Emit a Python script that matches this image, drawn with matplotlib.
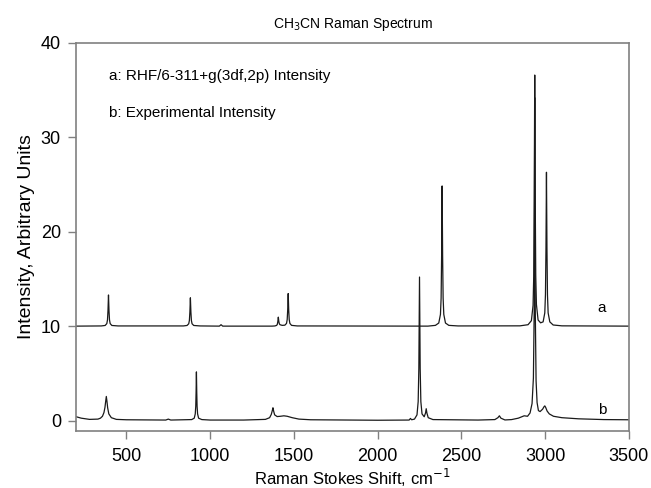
import matplotlib.pyplot as plt

plt.rcParams["font.family"] = ["Liberation Sans", "DejaVu Sans"]

# Trace a: RHF/6-311+g(3df,2p) intensity (offset by 10)
calc_shift = [
    200, 350, 373, 383, 387, 390, 393, 396, 399, 403, 413, 450,
    840, 862, 872, 876, 879, 882, 885, 888, 892, 902, 940,
    1055, 1065, 1075,
    1370, 1387, 1397, 1401, 1404, 1407, 1410, 1413, 1417, 1430,
    1446, 1456, 1460, 1463, 1466, 1469, 1472, 1476, 1486, 1520,
    2300, 2345, 2365, 2375, 2379, 2382, 2385, 2388, 2391, 2395, 2405, 2425, 2480,
    2850, 2898, 2918, 2928, 2932, 2935, 2938, 2941, 2944, 2948, 2958, 2973, 2988,
    2998, 3002, 3005, 3008, 3011, 3014, 3018, 3028, 3048, 3100, 3500,
]
calc_intensity = [
    10.0, 10.02, 10.07, 10.27, 10.66, 11.65, 13.3, 11.65, 10.66, 10.27, 10.07, 10.02,
    10.02, 10.07, 10.25, 10.6, 11.5, 13.0, 11.5, 10.6, 10.25, 10.07, 10.02,
    10.0, 10.15, 10.0,
    10.0, 10.02, 10.08, 10.19, 10.48, 10.95, 10.5, 10.25, 10.15, 10.08,
    10.1, 10.29, 10.7, 11.72, 13.45, 11.72, 10.7, 10.29, 10.08, 10.02,
    10.0, 10.08, 10.33, 11.24, 12.97, 17.4, 24.85, 17.4, 12.97, 11.24, 10.33, 10.08, 10.02,
    10.03, 10.15, 10.58, 12.2, 15.3, 23.3, 36.6, 23.3, 15.4, 12.3, 10.65, 10.35, 10.45,
    11.4, 13.35, 18.15, 26.3, 18.15, 13.3, 11.4, 10.45, 10.12, 10.03, 10.0,
]

# Trace b: experimental intensity
exp_shift = [
    200, 230, 280, 330, 345, 357, 366, 372, 376, 380, 384, 388, 395, 410, 440, 500,
    735, 750, 765,
    890, 905, 911, 914, 916, 918, 920, 922, 925, 931, 950, 1000,
    1200, 1330, 1355, 1365, 1371, 1375, 1379, 1385, 1400, 1420, 1440, 1460, 1490, 1530, 1600,
    2000, 2188, 2196, 2203, 2220, 2235, 2242, 2246, 2250, 2254, 2258, 2265, 2278,
    2286, 2290, 2294, 2302, 2330,
    2600, 2700, 2718, 2727, 2736, 2760, 2800, 2840, 2875, 2895, 2910, 2922, 2930, 2935,
    2938, 2941, 2946, 2952, 2960, 2970, 2985, 2993, 2998, 3003, 3012, 3025, 3050,
    3100, 3200, 3350, 3500,
]
exp_intensity = [
    0.4, 0.25, 0.12, 0.15, 0.25, 0.45, 0.85, 1.4, 2.0, 2.55, 2.0, 1.35, 0.7, 0.3, 0.12, 0.08,
    0.05, 0.15, 0.05,
    0.1, 0.25, 0.7, 1.5, 3.0, 5.15, 3.0, 1.5, 0.7, 0.25, 0.1, 0.05,
    0.05, 0.12, 0.3, 0.65, 1.05, 1.35, 1.0, 0.6, 0.42, 0.45, 0.5, 0.45, 0.3, 0.15, 0.08,
    0.03, 0.05, 0.22, 0.08, 0.15, 0.6, 2.0, 5.5, 15.2, 5.5, 2.0, 0.7, 0.4,
    0.8, 1.25, 0.8, 0.3, 0.1,
    0.05, 0.1, 0.3, 0.5, 0.25, 0.06, 0.1, 0.25, 0.5, 0.45, 0.8, 1.8, 4.5, 12.0,
    34.2, 12.0, 4.2, 1.9, 1.05, 0.95, 1.2, 1.45, 1.55, 1.4, 1.0, 0.7, 0.45,
    0.3, 0.18, 0.1, 0.08,
]

spine_gray = "#808080"
line_color = "#1a1a1a"

fig = plt.figure(figsize=(6.51, 4.88), dpi=100)
ax = fig.add_axes([0.117, 0.117, 0.849, 0.795])

ax.plot(calc_shift, calc_intensity, color=line_color, linewidth=0.9)
ax.plot(exp_shift, exp_intensity, color=line_color, linewidth=0.9)

ax.set_xlim(200, 3500)
ax.set_ylim(-1.1, 40)
ax.set_xticks([500, 1000, 1500, 2000, 2500, 3000, 3500])
ax.set_yticks([0, 10, 20, 30, 40])

for spine in ax.spines.values():
    spine.set_color(spine_gray)
    spine.set_linewidth(1.2)
ax.tick_params(direction="out", length=6, width=1, color=spine_gray,
               labelsize=13)
ax.tick_params(axis="x", pad=6)
ax.tick_params(axis="y", pad=5)

# labels
ax.set_title("CH$_3$CN Raman Spectrum", fontsize=10, pad=11)
ax.set_xlabel("Raman Stokes Shift, cm$^{-1}$", fontsize=12, labelpad=2)
ax.set_ylabel("Intensity, Arbitrary Units", fontsize=14, labelpad=4)

ax.text(394, 36.5, "a: RHF/6-311+g(3df,2p) Intensity", fontsize=11, va="center")
ax.text(394, 32.6, "b: Experimental Intensity", fontsize=11, va="center")
ax.text(3340, 11.9, "a", fontsize=11, ha="center", va="center")
ax.text(3340, 1.1, "b", fontsize=11, ha="center", va="center")

plt.savefig("out.png", dpi=100)
plt.close()
